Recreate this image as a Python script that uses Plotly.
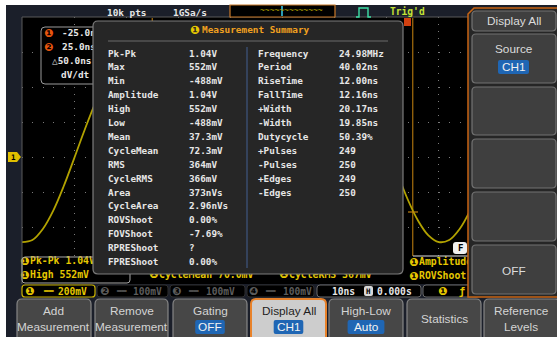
import plotly.graph_objects as go

W, H = 557, 337

# ---------------- data ----------------
time_ns = list(range(-50, 51, 2))
ch1_mV = [-486, -474, -411, -306, -167, -9, 153, 304, 427, 512, 550, 538, 475, 370, 231, 73, -89, -240, -363, -448,
          -486, -474, -411, -306, -167, -9, 153, 304, 427, 512, 550, 538, 475, 370, 231, 73, -89, -240, -363, -448,
          -486, -474, -411, -306, -167, -9, 153, 304, 427, 512, 550]
cursor_ns = [-25.0, 25.0]

record_length = "10k pts"
sample_rate = "1GSa/s"
trigger_state = "Trig'd"

summary_title = "Measurement Summary"
meas_left_labels = ["Pk-Pk", "Max", "Min", "Amplitude", "High", "Low", "Mean", "CycleMean",
                    "RMS", "CycleRMS", "Area", "CycleArea", "ROVShoot", "FOVShoot", "RPREShoot", "FPREShoot"]
meas_left_values = ["1.04V", "552mV", "-488mV", "1.04V", "552mV", "-488mV", "37.3mV", "72.3mV",
                    "364mV", "366mV", "373nVs", "2.96nVs", "0.00%", "-7.69%", "?", "0.00%"]
meas_right_labels = ["Frequency", "Period", "RiseTime", "FallTime", "+Width", "-Width", "Dutycycle",
                     "+Pulses", "-Pulses", "+Edges", "-Edges"]
meas_right_values = ["24.98MHz", "40.02ns", "12.00ns", "12.16ns", "20.17ns", "19.85ns", "50.39%",
                     "249", "250", "249", "250"]

cursor_readout = ["-25.0ns", "25.0ns", "△50.0ns", "dV/dt"]
grid_meas_left = ["Pk-Pk 1.04V", "High 552mV"]
grid_meas_mid = ["CycleMean 70.0mV", "CycleRMS 367mV"]
grid_meas_right = ["Amplitude", "ROVShoot"]
channel_scales = ["200mV", "100mV", "100mV", "100mV"]
timebase = "10ns"
h_position = "0.000s"
side_menu = ["Display All", "Source", "CH1", "OFF"]
softkeys = [("Add", "Measurement", None), ("Remove", "Measurement", None), ("Gating", None, "OFF"),
            ("Display All", None, "CH1"), ("High-Low", None, "Auto"), ("Statistics", None, None),
            ("Reference", "Levels", None)]

# ---------------- style ----------------
NAVY = "#1b1f2a"
YEL = "#e6c800"
WAVE = "#b2a200"
TXT = "#e6e6e6"
GRAYTXT = "#5c5c5c"
MONO = "DejaVu Sans Mono"
SANS = "Liberation Sans"
BLUE = "#1f66b4"

X_C, PX_PER_NS = 282.5, 5.21
Y_0, PX_PER_MV = 157.0, 35.0 / 200.0


def px(x): return x / W
def py(y): return 1 - y / H
def tx(x): return (x - X_C) / PX_PER_NS
def vy(y): return (Y_0 - y) / PX_PER_MV


shapes = []
annotations = []
traces = []


def rect(x0, y0, x1, y1, fill=None, line=None, lw=1.0, layer="above", r=0, ref="paper"):
    if ref == "paper":
        fx, fy, xr, yr = px, py, "paper", "paper"
    else:
        fx, fy, xr, yr = tx, vy, "x", "y"
    ln = dict(color=line, width=lw) if line else dict(width=0)
    fc = fill if fill else "rgba(0,0,0,0)"
    if r == 0:
        shapes.append(dict(type="rect", xref=xr, yref=yr, x0=fx(x0), x1=fx(x1), y0=fy(y0), y1=fy(y1),
                           fillcolor=fc, line=ln, layer=layer))
        return

    def P(x, y):
        return f"{fx(x):.5f},{fy(y):.5f}"
    path = (f"M{P(x0 + r, y0)} L{P(x1 - r, y0)} Q{P(x1, y0)} {P(x1, y0 + r)} L{P(x1, y1 - r)} "
            f"Q{P(x1, y1)} {P(x1 - r, y1)} L{P(x0 + r, y1)} Q{P(x0, y1)} {P(x0, y1 - r)} "
            f"L{P(x0, y0 + r)} Q{P(x0, y0)} {P(x0 + r, y0)} Z")
    shapes.append(dict(type="path", xref=xr, yref=yr, path=path, fillcolor=fc, line=ln, layer=layer))


def pathpx(points, color, lw=1.0, fill=None, closed=False, layer="above"):
    s = "M" + " L".join(f"{px(x):.5f},{py(y):.5f}" for x, y in points)
    if closed:
        s += " Z"
    shapes.append(dict(type="path", xref="paper", yref="paper", path=s,
                       fillcolor=fill if fill else "rgba(0,0,0,0)",
                       line=dict(color=color, width=lw) if color else dict(width=0), layer=layer))


def line(x0, y0, x1, y1, color, lw=1.0, layer="above"):
    shapes.append(dict(type="line", xref="paper", yref="paper", x0=px(x0), y0=py(y0), x1=px(x1), y1=py(y1),
                       line=dict(color=color, width=lw), layer=layer))


def txt(x, y, s, size=9.2, color=TXT, anchor="left", family=MONO, weight="bold", bg=None):
    a = dict(x=px(x), y=py(y), xref="paper", yref="paper", text=s, showarrow=False, xanchor=anchor,
             yanchor="middle", font=dict(family=family, size=size, color=color, weight=weight), borderpad=0,
             borderwidth=0)
    if bg:
        a["bgcolor"] = bg
    annotations.append(a)


def ttext(x, y, s, size=9.2, color=TXT, family=MONO, weight="bold"):
    # text placed on the pixel overlay axes (x2/y2) so that overlay shapes can hide it
    traces.append(go.Scatter(x=[x - 3], y=[y], xaxis="x2", yaxis="y2", mode="text", text=[s],
                             textposition="middle right",
                             textfont=dict(family=family, size=size, color=color, weight=weight),
                             cliponaxis=False, hoverinfo="skip", showlegend=False))


# ---------------- background (below grid) ----------------
rect(6, 5, 560, 340, fill=NAVY, layer="below")
rect(22, 17, 560, 284, fill="#000000", layer="below")

# cursor readout box (between grid and traces)
rect(41, 27, 130, 84, fill="#000000", line="#9a9a9a", lw=1, layer="between", r=4, ref="data")
for c in cursor_ns:
    shapes.append(dict(type="line", xref="x", yref="y", x0=c, x1=c, y0=vy(256), y1=vy(18),
                       line=dict(color="#a8700e", width=1.2), layer="between"))

# ---------------- waveform ----------------
traces.insert(0, go.Scatter(x=time_ns, y=ch1_mV, mode="lines", line=dict(color=WAVE, width=1.8, shape="spline"),
                            hoverinfo="skip", showlegend=False))

# texts that sit under the popup / side menu
ICON = 11
ttext(47, 34, "❶", ICON, "#e8560e", family="DejaVu Sans")
ttext(47, 48, "❷", ICON, "#e8560e", family="DejaVu Sans")
ttext(65, 34, cursor_readout[0], 9.4)
ttext(65, 48, cursor_readout[1], 9.4)
ttext(55, 62, cursor_readout[2], 9.4)
ttext(64, 76, cursor_readout[3], 9.4)

ttext(23, 262, "❶", ICON, YEL, family="DejaVu Sans")
ttext(33, 262, grid_meas_left[0], 9.8, YEL)
ttext(23, 276, "❶", ICON, YEL, family="DejaVu Sans")
ttext(33, 276, grid_meas_left[1], 9.8, YEL)
ttext(152, 275.5, "❶", ICON, YEL, family="DejaVu Sans")
ttext(162, 275.5, grid_meas_mid[0], 9.8, YEL)
ttext(282, 275.5, "❶", ICON, YEL, family="DejaVu Sans")
ttext(292, 275.5, grid_meas_mid[1], 9.8, YEL)
ttext(412, 263, "❶", ICON, YEL, family="DejaVu Sans")
ttext(422, 263, grid_meas_right[0], 9.8, YEL)
ttext(412, 277, "❶", ICON, YEL, family="DejaVu Sans")
ttext(422, 277, grid_meas_right[1], 9.8, YEL)

# ---------------- overlay shapes ----------------
line(22, 17, 22, 284, "#5a5a5a")
line(22, 17, 468, 17, "#5a5a5a")
rect(22, 257, 130, 283, line="#a8a8a8", lw=1, r=3)
line(413, 256, 468, 256, "#e0e0e0", lw=1.2)
rect(404, 18, 411, 26, fill="#d04010")
line(408, 212, 418, 212, "#c08010", lw=1.2)
rect(453, 242, 467, 254, fill="#f0f0f0", r=3)
txt(460, 248, "F", 9, "#000000", anchor="center")

# ground marker
pathpx([(8, 152), (17, 152), (21, 157), (17, 162), (8, 162)], None, fill="#e0bf00", closed=True)
txt(13, 157, "1", 7.5, "#000000", anchor="center")

# top bar
txt(107, 12, record_length, 9.4)
txt(173, 12, sample_rate, 9.4)
rect(230, 5, 335, 17, fill="#000000", line="#c87828", lw=1.2)
txt(291, 10, "~~~~~~~~~~~~~", 8, WAVE, anchor="center", weight="normal")
line(282, 6, 282, 16, "#38d0f0", lw=1.5)
pathpx([(356, 17), (359, 17), (359, 8), (368, 8), (368, 17), (371, 17)], "#3ee0a6", lw=1.4)
txt(390, 11, trigger_state, 9.6, "#c4e236")

# channel status bar
rect(22, 285, 95, 297, fill="#000000", line="#c8b000", lw=1.2, r=3)
rect(97, 285, 168, 297, fill="#000000", line="#2e2e2e", lw=1, r=3)
rect(170, 285, 245, 297, fill="#000000", line="#2e2e2e", lw=1, r=3)
rect(247, 285, 314, 297, fill="#000000", line="#2e2e2e", lw=1, r=3)
rect(317, 285, 421, 297, fill="#000000", line="#6a6a6a", lw=1, r=3)
rect(423, 285, 480, 297, fill="#000000", line="#6a6a6a", lw=1, r=3)
txt(29, 291, "❶", ICON, YEL, anchor="center", family="DejaVu Sans")
txt(48, 291, "══", 8, YEL, anchor="center")
txt(58, 291, channel_scales[0], 9.6, YEL)
for cx, sym, sc, lx in [(104, "❷", channel_scales[1], 133), (176, "❸", channel_scales[2], 206),
                        (253, "❹", channel_scales[3], 283)]:
    txt(cx, 291, sym, ICON, GRAYTXT, anchor="center", family="DejaVu Sans")
    txt(cx + 17, 291, "══", 8, GRAYTXT, anchor="center")
    txt(lx, 291, sc, 9.6, GRAYTXT)
txt(332, 291, timebase, 9.6)
rect(364, 286, 373, 296, fill="#d8d8d8", r=2)
txt(368.5, 291, "H", 7.5, "#000000", anchor="center")
txt(377, 291, h_position, 9.6)
txt(442, 291, "❶", ICON, YEL, anchor="center", family="DejaVu Sans")
txt(462, 291, "ƒ", 10, YEL, anchor="center")

# ---------------- measurement summary popup ----------------
rect(93, 21, 403, 274, fill="#262626", line="#7c7c7c", lw=1.2, r=5)
line(108, 41, 388, 41, "#6a6a6a")
line(247, 47, 247, 268, "#3a4d6e", lw=1.5)
txt(195, 30, "❶", 11.5, YEL, anchor="center", family="DejaVu Sans")
txt(202, 30, summary_title, 9.4, "#f0a020")
for i, (lab, val) in enumerate(zip(meas_left_labels, meas_left_values)):
    y = 53 + i * 13.9
    txt(108, y, lab, 9.3)
    txt(189, y, val, 9.3)
for i, (lab, val) in enumerate(zip(meas_right_labels, meas_right_values)):
    y = 53 + i * 13.9
    txt(258, y, lab, 9.3)
    txt(339, y, val, 9.3)

# ---------------- side menu ----------------
pathpx([(468, 297), (468, 14), (474, 8), (560, 8), (560, 297)], "#c86414", lw=1.5, fill="#262626", closed=True)
for (y0, y1) in [(11, 31), (34, 83), (87, 135), (139, 188), (192, 241), (245, 294)]:
    rect(472, y0, 556, y1, fill="#3f3f3f", line="#727272", lw=1.2, r=4)
txt(514, 21, side_menu[0], 11.8, "#dcdcdc", anchor="center", family=SANS, weight="normal")
txt(514, 49, side_menu[1], 11.8, "#dcdcdc", anchor="center", family=SANS, weight="normal")
rect(498, 60, 529, 74, fill=BLUE, r=2)
txt(513.5, 67, side_menu[2], 11.8, "#f0f0f0", anchor="center", family=SANS, weight="normal")
txt(514, 271, side_menu[3], 11.8, "#dcdcdc", anchor="center", family=SANS, weight="normal")

# ---------------- bottom soft keys ----------------
key_x = [(17, 91), (95, 168), (173, 247), (251, 326), (329, 403), (407, 481), (484, 560)]
for k, ((x0, x1), (t1, t2, badge)) in enumerate(zip(key_x, softkeys)):
    hi = (k == 3)
    rect(x0, 299, x1, 345, fill="#cdcdcd" if hi else "#474747", line="#e8822a" if hi else "#868686",
         lw=2 if hi else 1.2, r=5)
    cx = (x0 + x1) / 2 if k < 6 else 521
    col = "#1e1e1e" if hi else "#d4d4d4"
    if t2 is None and badge is None:
        txt(cx, 319, t1, 11.8, col, anchor="center", family=SANS, weight="normal")
        continue
    txt(cx, 311, t1, 11.8, col, anchor="center", family=SANS, weight="normal")
    if t2:
        txt(cx, 327, t2, 11.8, col, anchor="center", family=SANS, weight="normal")
    if badge:
        bw = 3.6 * len(badge) + 4
        rect(cx - bw, 320, cx + bw, 334, fill=BLUE, r=2)
        txt(cx, 327, badge, 11.8, "#f2f2f2", anchor="center", family=SANS, weight="normal")

fig = go.Figure(data=traces)
fig.update_layout(
    width=W, height=H, margin=dict(l=0, r=0, t=0, b=0),
    paper_bgcolor="#ffffff", plot_bgcolor="rgba(0,0,0,0)", showlegend=False,
    xaxis=dict(domain=[px(22), px(543)], range=[-50, 50], dtick=10, tick0=0, showgrid=True,
               gridcolor="#7a7a7a", gridwidth=1, griddash="1px,6px", zeroline=False,
               showticklabels=False, ticks="", showline=False, fixedrange=True),
    yaxis=dict(domain=[py(257), py(17)], range=[vy(257), vy(17)], dtick=200, tick0=0, showgrid=True,
               gridcolor="#7a7a7a", gridwidth=1, griddash="1px,9.42px", zeroline=False,
               showticklabels=False, ticks="", showline=False, fixedrange=True),
    xaxis2=dict(domain=[0, 1], range=[0, W], visible=False, anchor="y2", fixedrange=True),
    yaxis2=dict(domain=[0, 1], range=[H, 0], visible=False, anchor="x2", fixedrange=True),
    shapes=shapes, annotations=annotations,
)
fig.write_html("out.html", config={"displayModeBar": False, "staticPlot": True},
               post_script="document.body.style.margin='0';document.body.style.overflow='hidden';")
